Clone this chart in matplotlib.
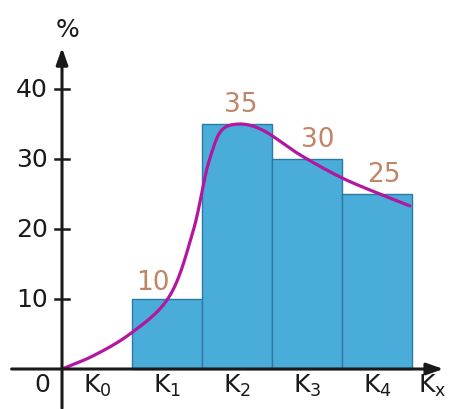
import matplotlib
matplotlib.use("Agg")
import matplotlib.pyplot as plt
import numpy as np

plt.rcParams['font.family'] = ['DejaVu Sans']
plt.rcParams['mathtext.default'] = 'regular'

# histogram data
categories = ['K$_0$', 'K$_1$', 'K$_2$', 'K$_3$', 'K$_4$']
values = [0, 10, 35, 30, 25]
yticks = [10, 20, 30, 40]

# smooth curve knots (x in class units, y in %)
curve_x = [0.0, 0.44, 0.97, 1.51, 1.87, 2.11, 2.3, 2.54, 2.83, 3.4, 4.0, 4.54, 4.97]
curve_y = [0.0, 1.86, 5.0, 10.0, 19.6, 30.0, 34.3, 35.0, 34.3, 30.6, 27.3, 25.0, 23.3]


def smooth_line(xs, ys, n=40, alpha=0.5):
    # centripetal catmull-rom; y scaled like on screen (70px per class, 7px per %)
    p = np.column_stack([np.asarray(xs, float), np.asarray(ys, float) * 0.1])
    p = np.vstack([2 * p[0] - p[1], p, 2 * p[-1] - p[-2]])
    out = []
    for i in range(1, len(p) - 2):
        p0, p1, p2, p3 = p[i - 1], p[i], p[i + 1], p[i + 2]
        t0 = 0.0
        t1 = t0 + np.linalg.norm(p1 - p0) ** alpha
        t2 = t1 + np.linalg.norm(p2 - p1) ** alpha
        t3 = t2 + np.linalg.norm(p3 - p2) ** alpha
        t = np.linspace(t1, t2, n)[:, None]
        a1 = (t1 - t) / (t1 - t0) * p0 + (t - t0) / (t1 - t0) * p1
        a2 = (t2 - t) / (t2 - t1) * p1 + (t - t1) / (t2 - t1) * p2
        a3 = (t3 - t) / (t3 - t2) * p2 + (t - t2) / (t3 - t2) * p3
        b1 = (t2 - t) / (t2 - t0) * a1 + (t - t0) / (t2 - t0) * a2
        b2 = (t3 - t) / (t3 - t1) * a2 + (t - t1) / (t3 - t1) * a3
        c = (t2 - t) / (t2 - t1) * b1 + (t - t1) / (t2 - t1) * b2
        out.append(c)
    out = np.vstack(out)
    return out[:, 0], out[:, 1] * 10


fig = plt.figure(figsize=(4.49, 4.10), dpi=100)
ax = fig.add_axes([0, 0, 1, 1])
ax.set_xlim(-0.886, 5.529)
ax.set_ylim(-5.714, 52.857)
ax.axis('off')

xs = np.arange(len(values)) + 0.5
for x, v in zip(xs, values):
    if v > 0:
        ax.bar(x, v, width=1.0, color='#4aacd9', edgecolor='#2b7aa3', linewidth=1.0, zorder=2)

cx, cy = smooth_line(curve_x, curve_y)
ax.plot(cx, cy, color='#b3179f', lw=2.3, zorder=4, solid_capstyle='round')

# value labels
label_dx = [0, -0.2, 0.05, 0.15, 0.1]
label_dy = [0, 0.6, 1.0, 1.0, 1.0]
for x, v, dx, dy in zip(xs, values, label_dx, label_dy):
    if v > 0:
        ax.text(x + dx, v + dy, str(v), color='#c08466', fontsize=19,
                ha='center', va='bottom', zorder=5)

# axes with arrows
arr = dict(arrowstyle='-|>,head_length=1.0,head_width=0.35', color='#1a1a1a', lw=2.2,
           shrinkA=0, shrinkB=0)
ax.annotate('', xy=(0, 45.9), xytext=(0, -5.6), arrowprops=arr, zorder=6)
ax.annotate('', xy=(5.45, 0), xytext=(-0.72, 0), arrowprops=arr, zorder=6)

for t in yticks:
    ax.plot([-0.1, 0.1], [t, t], color='#1a1a1a', lw=1.8, zorder=6)
    ax.text(-0.2, t, str(t), fontsize=18, ha='right', va='center', color='#1a1a1a')

ax.text(-0.28, -2.2, '0', fontsize=18, ha='center', va='center', color='#1a1a1a')
ax.text(0.08, 48.6, '%', fontsize=18, ha='center', va='center', color='#1a1a1a')

for x, c in zip(xs, categories):
    ax.text(x, -2.3, c, fontsize=18, ha='center', va='center', color='#1a1a1a')
ax.text(5.08, -2.3, 'K$_x$', fontsize=18, ha='left', va='center', color='#1a1a1a')

fig.savefig('out.png', dpi=100)
